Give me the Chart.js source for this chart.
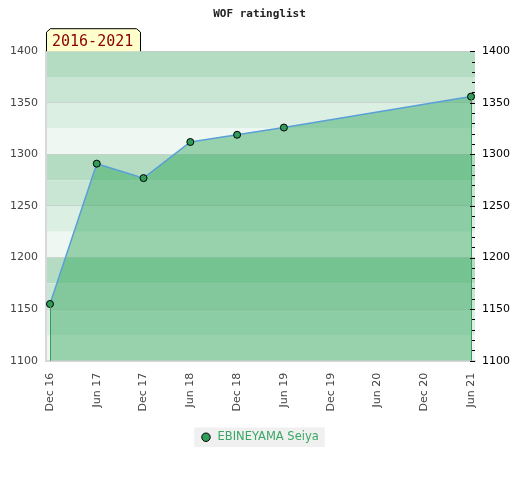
<!DOCTYPE html>
<html>
<head>
<meta charset="utf-8">
<script src="https://cdn.jsdelivr.net/npm/chart.js@4/dist/chart.umd.min.js"></script>
<style>
  html, body { margin: 0; padding: 0; background: #fff; }
  #wrap { width: 520px; height: 480px; }
</style>
</head>
<body>
<div id="wrap"><canvas id="ratingChart"></canvas></div>
<script>
// data
var periods = ['Dec 16', 'Jun 17', 'Dec 17', 'Jun 18', 'Dec 18', 'Jun 19', 'Dec 19', 'Jun 20', 'Dec 20', 'Jun 21'];
var ratings = [1155, 1291, 1277, 1312, 1319, 1326, null, null, null, 1356];
var yTicks = [1100, 1150, 1200, 1250, 1300, 1350, 1400];
var playerName = 'EBINEYAMA Seiya';
var rangeLabel = '2016-2021';

var points = [];
ratings.forEach(function(v, i) {
  if (v !== null) points.push({ x: i, y: v });
});

// alternating background stripes, every 25 points
var bandColors = ['#b3dcc2', '#c9e5d4', '#dcefe3', '#eef7f1'];

var bandsPlugin = {
  id: 'bands',
  beforeDraw: function(chart) {
    var ctx = chart.ctx, a = chart.chartArea, y = chart.scales.y;
    ctx.save();
    for (var v = 1400, k = 0; v > 1100; v -= 25, k++) {
      var top = y.getPixelForValue(v), bot = y.getPixelForValue(v - 25);
      ctx.fillStyle = bandColors[k % 4];
      ctx.fillRect(a.left, top, a.right - a.left, bot - top);
    }
    // grey box behind legend item
    var hb = chart.legend.legendHitBoxes && chart.legend.legendHitBoxes[0];
    if (hb) {
      ctx.fillStyle = '#f0f0f0';
      ctx.fillRect(hb.left - 6, hb.top - 4, hb.width + 12, hb.height + 8);
    }
    ctx.restore();
  },
  afterDatasetsDraw: function(chart) {
    var ctx = chart.ctx, a = chart.chartArea, x = chart.scales.x, y = chart.scales.y;
    ctx.save();
    // vertical edges of the filled area
    ctx.strokeStyle = '#3a9a5c';
    ctx.lineWidth = 1;
    [points[0], points[points.length - 1]].forEach(function(p) {
      var px = Math.round(x.getPixelForValue(p.x)) + 0.5;
      ctx.beginPath();
      ctx.moveTo(px, y.getPixelForValue(p.y));
      ctx.lineTo(px, a.bottom);
      ctx.stroke();
    });
    // small ticks on the right edge
    ctx.strokeStyle = '#000';
    for (var v = 1100; v <= 1400; v += 10) {
      var py = Math.round(y.getPixelForValue(v)) + 0.5;
      var len = v % 50 === 0 ? 5 : 3;
      ctx.beginPath();
      ctx.moveTo(a.right - len, py);
      ctx.lineTo(a.right, py);
      ctx.stroke();
    }
    ctx.restore();
  },
  afterDraw: function(chart) {
    var ctx = chart.ctx, a = chart.chartArea;
    var l = a.left, t = a.top - 23, r = a.left + 95, b = a.top;
    ctx.save();
    ctx.beginPath();
    ctx.moveTo(l + 0.5, b);
    ctx.lineTo(l + 0.5, t + 4);
    ctx.lineTo(l + 4.5, t + 0.5);
    ctx.lineTo(r - 4.5, t + 0.5);
    ctx.lineTo(r - 0.5, t + 4);
    ctx.lineTo(r - 0.5, b);
    ctx.fillStyle = '#ffffcc';
    ctx.fill();
    ctx.strokeStyle = '#000';
    ctx.lineWidth = 1;
    ctx.stroke();
    ctx.fillStyle = '#8b0000';
    ctx.font = '15px "DejaVu Sans Mono"';
    ctx.textBaseline = 'alphabetic';
    ctx.fillText(rangeLabel, l + 6, b - 5);
    ctx.restore();
  }
};

function plain(v) { return String(v); }

var ctx = document.getElementById('ratingChart').getContext('2d');
new Chart(ctx, {
  type: 'line',
  data: {
    datasets: [{
      label: playerName,
      data: points,
      borderColor: '#5a9fd8',
      borderWidth: 1.5,
      backgroundColor: 'rgba(45, 164, 89, 0.45)',
      fill: 'start',
      tension: 0,
      pointRadius: 3.5,
      pointBackgroundColor: '#2e9e5a',
      pointBorderColor: '#000',
      pointBorderWidth: 1
    }]
  },
  options: {
    responsive: true,
    maintainAspectRatio: false,
    animation: false,
    layout: { padding: { top: 4, left: 2, right: 3, bottom: 27 } },
    plugins: {
      title: {
        display: true,
        text: 'WOF ratinglist',
        color: '#222',
        font: { family: 'DejaVu Sans Mono', size: 11, weight: 'bold' },
        padding: { top: 4, bottom: 30 }
      },
      legend: {
        position: 'bottom',
        labels: {
          usePointStyle: true,
          pointStyle: 'circle',
          boxWidth: 11.5,
          boxHeight: 6,
          color: '#3aa865',
          font: { family: 'DejaVu Sans', size: 11.5 },
          padding: 12
        }
      },
      tooltip: { enabled: false }
    },
    scales: {
      x: {
        type: 'linear',
        min: -0.085,
        max: periods.length - 1 + 0.085,
        afterBuildTicks: function(s) { s.ticks = periods.map(function(_, i) { return { value: i }; }); },
        ticks: {
          color: '#444',
          font: { family: 'DejaVu Sans', size: 11 },
          maxRotation: 90,
          minRotation: 90,
          padding: 8,
          callback: function(v) { return periods[v]; }
        },
        grid: { display: false, tickLength: 4 },
        border: { display: true, color: '#d8d8d8', width: 2 }
      },
      y: {
        position: 'left',
        min: 1100,
        max: 1400,
        afterBuildTicks: function(s) { s.ticks = yTicks.map(function(v) { return { value: v }; }); },
        ticks: { color: '#444', font: { family: 'DejaVu Sans', size: 11 }, padding: 8, callback: plain },
        grid: { color: 'rgba(190, 190, 190, 0.5)', drawTicks: false, tickLength: 0 },
        border: { display: true, color: '#d8d8d8', width: 2 }
      },
      y2: {
        position: 'right',
        min: 1100,
        max: 1400,
        afterBuildTicks: function(s) { s.ticks = yTicks.map(function(v) { return { value: v }; }); },
        ticks: { color: '#000', font: { family: 'DejaVu Sans', size: 11 }, padding: 7, callback: plain },
        grid: { display: false, drawTicks: false, tickLength: 0 },
        border: { display: false }
      }
    }
  },
  plugins: [bandsPlugin]
});
</script>
</body>
</html>
